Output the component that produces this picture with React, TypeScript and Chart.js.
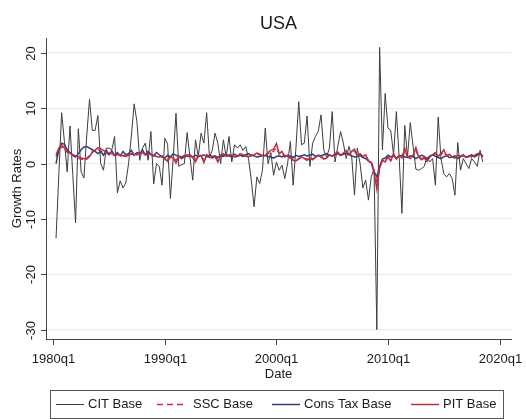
import React, { useEffect, useRef } from "react";
import { Chart, registerables } from "chart.js";

Chart.register(...registerables);

// Quarterly dates 1980q2 .. 2018q3
const dates: string[] = [];
for (let i = 0; i < 154; i++) {
  const q = 1 + i; // quarters since 1980q1
  dates.push(`${1980 + Math.floor(q / 4)}q${(q % 4) + 1}`);
}

const citBase = [
  -13.5, -2, 9.2, 4, -1.5, 6.8, -2, -10.7, 6.3, -1.5,
  -2.6, 5, 11.6, 6.0, 6.0, 8.7, 0, -1.2, 2.8, 2.8,
  2.5, 4.9, -5.3, -3.1, -4.4, -3.5, 0, 5, 10.8, 7.6,
  0.6, 2.8, 3.7, 0.6, 5.8, -3.7, 0, -0.5, -3.9, 4.6,
  3.5, -6.3, 1, 9.1, -0.5, -0.2, 0, 5.6, 1.2, -3,
  4.3, 1.2, 5.5, 3.7, 9.2, 1.2, 2.4, 5.5, 3.7, 0,
  4.3, 1.2, 4.9, 0.3, 3.4, 2.8, 3.4, 2.4, 3.1, 0.9,
  -3, -7.8, -2.4, -3.6, -1.2, 6.4, 0, 2, -2.1, 0.3,
  -1.2, -0.3, -2.7, 0, 4, -3.9, 2.8, 11.2, 3.4, 3.7,
  8.6, -0.5, 3.7, 4.9, 5.8, 8.8, 2.4, 1.2, 2.8, 9.4,
  0.3, 3.1, 5.8, 3.7, 0.9, 3.1, 1.2, -5.7, 2.8, 0,
  -4.4, -3, -6.6, -2.4, -1, -30, 21, 2.5, 12.7, 6.4,
  6.0, 1.5, 9.4, 1.2, -9, 6.9, 1.2, 7.4, 3.1, -1,
  -1.2, -0.9, -0.5, 1.2, 0.3, 0.9, -3.9, 8.4, 0.9, -1.8,
  -2.4, -1.8, -2.7, -5.7, 3.8, -1.2, 0.9, 0, -0.9, 0.9,
  0.3, -0.5, 2.4, 0.3,
];

const sscBase = [
  1.2, 2.5, 3.0, 2.6, 2.0, 1.8, 1.5, 1.2, 1.0, 0.8,
  0.7, 1.0, 1.5, 2.2, 2.5, 2.6, 2.3, 2.0, 1.8, 1.7,
  1.6, 1.5, 1.6, 1.4, 1.5, 1.4, 1.6, 1.7, 1.5, 1.6,
  1.7, 1.8, 1.6, 1.6, 1.5, 1.4, 1.3, 1.2, 1.2, 0.9,
  0.8, 1.1, 1.0, 0.6, 1.2, 1.1, 1.3, 1.2, 1.4, 1.0,
  0.8, 1.2, 1.3, 0.7, 1.4, 1.1, 1.0, 1.2, 0.8, 1.3,
  1.5, 1.3, 1.4, 1.4, 1.2, 1.3, 1.6, 1.5, 1.3, 1.2,
  1.4, 1.5, 1.7, 1.6, 1.4, 1.5, 1.8, 2.0, 2.2, 2.8,
  1.8, 1.9, 1.3, 1.4, 1.0, 0.8, 0.7, 0.9, 1.1, 1.0,
  0.8, 1.0, 0.9, 1.1, 1.4, 1.2, 1.0, 1.1, 1.5, 1.3,
  1.6, 1.9, 1.5, 1.8, 2.1, 1.7, 2.0, 2.2, 1.5, 1.7,
  1.3, 1.4, 0.6, 0.3, -1.0, -3.5, -0.6, 0.5, 0.6, 1.1,
  0.8, 1.6, 1.0, 1.4, 1.1, 2.2, 1.2, 1.0, 1.4, 2.3,
  1.2, 0.9, 1.1, 0.7, 1.2, 1.5, 1.8, 1.3, 1.6, 2.1,
  1.4, 1.5, 1.2, 1.1, 1.4, 1.3, 1.5, 1.2, 1.3, 1.2,
  1.4, 1.6, 1.8, 1.3,
];

const consTaxBase = [
  0, 2.5, 3.7, 3.5, 2.5, 2, 1.5, 1.2, 1.8, 2.5,
  3.0, 3.1, 2.8, 2.5, 2.2, 1.8, 2.2, 1.5, 2.4, 1.6,
  2.3, 1.5, 2.0, 1.4, 2.2, 1.6, 1.8, 2.4, 1.5, 2.0,
  1.8, 2.5, 1.6, 2.2, 1.7, 1.4, 2.0, 1.6, 1.2, 1.0,
  1.5, 1.2, 1.8, 1.5, 1.3, 0.9, 1.2, 1.6, 1.4, 1.2,
  1.5, 1.3, 1.4, 1.6, 1.2, 1.5, 1.3, 1.4, 1.1, 1.5,
  1.3, 1.6, 1.4, 1.2, 1.7, 1.4, 1.5, 1.3, 1.6, 1.8,
  1.5, 1.4, 1.2, 1.3, 1.5, 1.4, 1.3, 1.2, 1.0, 1.3,
  1.4, 1.2, 1.5, 1.3, 1.4, 1.1, 1.5, 1.3, 1.4, 1.6,
  1.4, 1.5, 1.7, 1.3, 1.5, 1.4, 1.6, 1.8, 1.5, 1.4,
  1.6, 1.8, 1.5, 1.7, 1.9, 1.6, 1.4, 1.2, 1.3, 1.5,
  1.1, 0.9, 0.5, 0.2, -1.5, -2.4, -0.5, 0.8, 1.0, 1.5,
  1.2, 1.4, 1.0, 1.3, 1.5, 1.2, 1.1, 1.4, 1.3, 0.9,
  1.2, 1.5, 1.3, 0.8, 1.4, 1.6, 1.3, 1.1, 0.9, 1.2,
  1.5, 1.1, 1.2, 1.4, 0.9, 1.2, 1.5, 1.1, 1.3, 1.6,
  1.2, 1.5, 1.9, 1.3,
];

const pitBase = [
  1.6, 2.8, 3.4, 2.8, 2.2, 1.9, 1.6, 1.4, 1.3, 1.0,
  0.9, 0.8, 1.3, 2.0, 2.4, 2.9, 2.7, 2.4, 2.1, 1.9,
  1.8, 1.6, 1.7, 1.5, 1.4, 1.3, 1.5, 1.8, 1.6, 1.7,
  1.9, 2.0, 1.7, 1.8, 1.6, 1.5, 1.3, 1.2, 1.4, 0.8,
  0.4, 1.3, 1.0, 0.1, 1.4, 1.2, 1.5, 1.3, 1.6, 1.1,
  0.3, 1.4, 1.5, 0.2, 1.6, 1.2, 1.0, 1.3, 0.3, 1.5,
  1.8, 1.4, 1.6, 1.5, 1.2, 1.3, 1.8, 1.6, 1.4, 1.2,
  1.5, 1.6, 1.9, 1.7, 1.4, 1.5, 2.0, 2.4, 2.6, 3.6,
  1.8, 2.2, 1.2, 1.5, 1.0, 0.6, 0.5, 0.8, 1.2, 0.9,
  0.6, 1.0, 0.7, 1.1, 1.5, 1.2, 0.8, 1.0, 1.6, 1.3,
  1.8, 2.1, 1.5, 1.9, 2.4, 1.7, 2.2, 2.6, 1.4, 1.8,
  1.3, 1.6, 0.4, 0.2, -1.5, -4.6, -0.8, 0.6, 0.3, 1.2,
  0.5, 1.8, 0.8, 1.5, 1.0, 2.8, 1.2, 0.9, 1.5, 2.9,
  1.2, 0.7, 1.0, 0.4, 1.2, 1.6, 2.0, 1.3, 1.8, 2.5,
  1.4, 1.7, 1.2, 1.0, 1.5, 1.3, 1.6, 1.1, 1.4, 1.2,
  1.5, 1.8, 1.9, 1.2,
];

const xTickLabels = ["1980q1", "1990q1", "2000q1", "2010q1", "2020q1"];
const yTickValues = [-30, -20, -10, 0, 10, 20];

const quarterIndex = (d: string) => {
  const [y, q] = d.split("q").map(Number);
  return (y - 1980) * 4 + (q - 1);
};

const FONT = '"Liberation Sans", Arial, sans-serif';

const seriesMeta = [
  { label: "CIT Base", data: citBase, color: "#3c3c3c", width: 1, dash: [] as number[], order: 4 },
  { label: "SSC Base", data: sscBase, color: "#d6264f", width: 1.3, dash: [5, 3], order: 3 },
  { label: "Cons Tax Base", data: consTaxBase, color: "#2c3f7c", width: 1.5, dash: [] as number[], order: 2 },
  { label: "PIT Base", data: pitBase, color: "#b8303f", width: 1.5, dash: [] as number[], order: 1 },
];

const decorPlugin = {
  id: "decor",
  afterDraw(chart: any) {
    const { ctx, chartArea, scales } = chart;
    const xs = scales.x;
    const ys = scales.y;
    ctx.save();
    ctx.fillStyle = "#1a1a1a";
    ctx.strokeStyle = "#444";
    ctx.lineWidth = 1;

    // title
    ctx.font = `18px ${FONT}`;
    ctx.textAlign = "center";
    ctx.textBaseline = "middle";
    ctx.fillText("USA", (chartArea.left + chartArea.right) / 2, 24);

    // y ticks and labels
    ctx.font = `13px ${FONT}`;
    yTickValues.forEach((v) => {
      const py = Math.round(ys.getPixelForValue(v)) + 0.5;
      ctx.beginPath();
      ctx.moveTo(chartArea.left - 5, py);
      ctx.lineTo(chartArea.left, py);
      ctx.stroke();
      ctx.save();
      ctx.translate(31, py);
      ctx.rotate(-Math.PI / 2);
      ctx.textAlign = "center";
      ctx.textBaseline = "middle";
      ctx.fillText(String(v), 0, 0);
      ctx.restore();
    });
    ctx.save();
    ctx.translate(17, (chartArea.top + chartArea.bottom) / 2);
    ctx.rotate(-Math.PI / 2);
    ctx.fillText("Growth Rates", 0, 0);
    ctx.restore();

    // x ticks and labels
    xTickLabels.forEach((lab) => {
      const px = Math.round(xs.getPixelForValue(quarterIndex(lab))) + 0.5;
      ctx.beginPath();
      ctx.moveTo(px, chartArea.bottom);
      ctx.lineTo(px, chartArea.bottom + 6);
      ctx.stroke();
      ctx.textAlign = "center";
      ctx.textBaseline = "middle";
      ctx.fillText(lab, px, 359);
    });
    ctx.fillText("Date", (chartArea.left + chartArea.right) / 2, 374);

    // legend
    ctx.strokeStyle = "#555";
    ctx.strokeRect(50.5, 390.5, 453, 28);
    const items = [
      { lx: 56, tx: 88 },
      { lx: 157, tx: 193 },
      { lx: 272, tx: 304 },
      { lx: 411, tx: 443 },
    ];
    items.forEach((it, i) => {
      const m = seriesMeta[i];
      ctx.save();
      ctx.strokeStyle = m.color;
      ctx.lineWidth = m.width;
      ctx.setLineDash(m.dash.length ? [6, 4] : []);
      ctx.beginPath();
      ctx.moveTo(it.lx, 404.5);
      ctx.lineTo(it.lx + 28, 404.5);
      ctx.stroke();
      ctx.restore();
      ctx.textAlign = "left";
      ctx.textBaseline = "middle";
      ctx.fillText(m.label, it.tx, 404);
    });
    ctx.restore();
  },
};

export default function App() {
  const ref = useRef<HTMLCanvasElement | null>(null);
  useEffect(() => {
    document.body.style.margin = "0";
    const canvas = ref.current!;
    const chart = new Chart(canvas, {
      type: "line",
      data: {
        datasets: seriesMeta.map((m) => ({
          label: m.label,
          data: m.data.map((v, i) => ({ x: quarterIndex(dates[i]), y: v })),
          borderColor: m.color,
          borderWidth: m.width,
          borderDash: m.dash,
          pointRadius: 0,
          tension: 0,
          fill: false,
          order: m.order,
        })),
      },
      options: {
        animation: false,
        responsive: false,
        devicePixelRatio: 1,
        layout: { padding: { top: 38, right: 15, left: 0, bottom: 0 } },
        plugins: { legend: { display: false }, title: { display: false }, tooltip: { enabled: false } },
        scales: {
          x: {
            type: "linear",
            min: -2.6,
            max: 164.1,
            ticks: { display: false },
            grid: { display: false },
            border: { display: true, color: "#444", width: 1 },
            afterFit: (s: any) => {
              s.height = 80;
            },
          },
          y: {
            type: "linear",
            min: -31.7,
            max: 22.7,
            ticks: { display: false },
            afterBuildTicks: (s: any) => {
              s.ticks = yTickValues.map((v) => ({ value: v }));
            },
            grid: { display: true, color: "#ebebeb", lineWidth: 1.2, drawTicks: false },
            border: { display: true, color: "#444", width: 1 },
            afterFit: (s: any) => {
              s.width = 46;
            },
          },
        },
      },
      plugins: [decorPlugin],
    });
    return () => chart.destroy();
  }, []);
  return (
    <div style={{ width: 526, height: 419, background: "#fff" }}>
      <canvas ref={ref} width={526} height={419} style={{ display: "block" }} />
    </div>
  );
}
